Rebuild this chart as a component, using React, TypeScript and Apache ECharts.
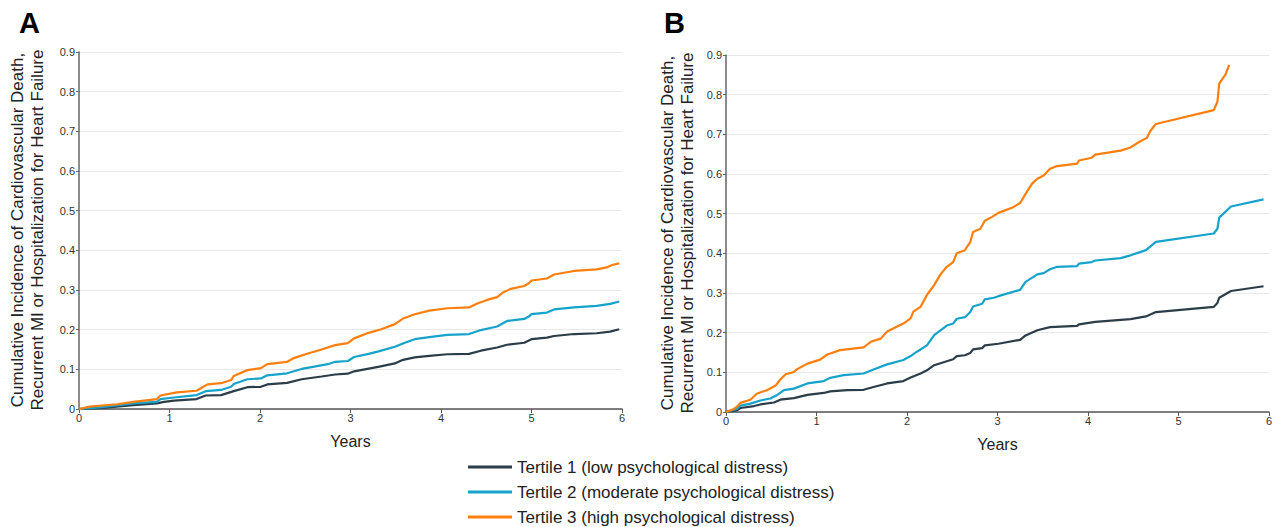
import React, { useEffect, useRef } from "react";
import * as echarts from "echarts";

const seriesNames = [
  "Tertile 1 (low psychological distress)",
  "Tertile 2 (moderate psychological distress)",
  "Tertile 3 (high psychological distress)",
];
const colors = ["#2b3d48", "#16a3cb", "#ff7f0e"];
const xTicks = [0, 1, 2, 3, 4, 5, 6];
const yTitle = "Cumulative Incidence of Cardiovascular Death,\nRecurrent MI or Hospitalization for Heart Failure";

// Panel A
const aT1 = [0, 0.23, 0.6, 0.86, 0.94, 1.05, 1.3, 1.4, 1.57, 1.71, 1.86, 2.01, 2.08, 2.3, 2.46, 2.68, 2.83, 2.97, 3.04, 3.32, 3.49, 3.58, 3.71, 3.87, 4.07, 4.31, 4.44, 4.62, 4.73, 4.92, 5.0, 5.17, 5.25, 5.47, 5.72, 5.87, 5.97];
const aY1 = [0, 0.002, 0.01, 0.014, 0.018, 0.021, 0.025, 0.034, 0.035, 0.045, 0.055, 0.056, 0.062, 0.066, 0.075, 0.082, 0.087, 0.089, 0.095, 0.107, 0.115, 0.124, 0.13, 0.134, 0.138, 0.139, 0.147, 0.155, 0.162, 0.167, 0.176, 0.18, 0.184, 0.189, 0.191, 0.195, 0.201];
const aT2 = [0, 0.23, 0.6, 0.86, 0.9, 1.05, 1.3, 1.4, 1.57, 1.68, 1.71, 1.86, 2.01, 2.08, 2.3, 2.46, 2.6, 2.75, 2.83, 2.97, 3.04, 3.2, 3.32, 3.49, 3.6, 3.71, 3.87, 4.07, 4.31, 4.44, 4.62, 4.73, 4.92, 4.97, 5.0, 5.17, 5.25, 5.47, 5.72, 5.87, 5.97];
const aY2 = [0, 0.004, 0.014, 0.018, 0.025, 0.029, 0.035, 0.045, 0.048, 0.056, 0.063, 0.075, 0.077, 0.085, 0.09, 0.101, 0.107, 0.113, 0.119, 0.121, 0.131, 0.139, 0.146, 0.157, 0.167, 0.176, 0.181, 0.187, 0.189, 0.199, 0.208, 0.222, 0.227, 0.233, 0.239, 0.243, 0.251, 0.256, 0.26, 0.265, 0.271];
const aT3 = [0, 0.12, 0.42, 0.6, 0.86, 0.9, 1.08, 1.3, 1.42, 1.57, 1.68, 1.71, 1.86, 2.01, 2.08, 2.3, 2.38, 2.53, 2.68, 2.83, 2.97, 3.04, 3.2, 3.34, 3.49, 3.58, 3.71, 3.87, 4.07, 4.31, 4.4, 4.51, 4.62, 4.68, 4.77, 4.92, 4.97, 5.0, 5.17, 5.25, 5.47, 5.72, 5.83, 5.89, 5.97];
const aY3 = [0, 0.006, 0.012, 0.018, 0.025, 0.034, 0.042, 0.046, 0.062, 0.065, 0.073, 0.083, 0.098, 0.103, 0.113, 0.119, 0.129, 0.14, 0.15, 0.161, 0.166, 0.178, 0.192, 0.201, 0.214, 0.228, 0.239, 0.248, 0.254, 0.256, 0.266, 0.275, 0.282, 0.293, 0.303, 0.31, 0.317, 0.324, 0.329, 0.339, 0.348, 0.352, 0.357, 0.363, 0.367];

// Panel B
const bT1 = [0, 0.12, 0.16, 0.31, 0.38, 0.53, 0.6, 0.75, 0.9, 1.08, 1.15, 1.34, 1.52, 1.63, 1.78, 1.96, 2.04, 2.15, 2.22, 2.3, 2.37, 2.44, 2.51, 2.55, 2.64, 2.7, 2.73, 2.83, 2.86, 3.01, 3.25, 3.31, 3.44, 3.58, 3.88, 3.9, 4.08, 4.47, 4.64, 4.75, 5.39, 5.43, 5.45, 5.58, 5.94];
const bY1 = [0, 0.004, 0.01, 0.015, 0.019, 0.024, 0.031, 0.035, 0.043, 0.048, 0.052, 0.055, 0.056, 0.063, 0.072, 0.078, 0.087, 0.097, 0.105, 0.118, 0.123, 0.128, 0.133, 0.141, 0.143, 0.149, 0.158, 0.161, 0.168, 0.172, 0.182, 0.193, 0.206, 0.214, 0.217, 0.221, 0.227, 0.234, 0.241, 0.252, 0.265, 0.275, 0.288, 0.305, 0.317];
const bT2 = [0, 0.12, 0.16, 0.27, 0.38, 0.49, 0.56, 0.64, 0.75, 0.9, 1.08, 1.15, 1.3, 1.52, 1.63, 1.78, 1.96, 2.04, 2.11, 2.22, 2.3, 2.37, 2.44, 2.51, 2.55, 2.64, 2.7, 2.73, 2.83, 2.86, 2.96, 3.01, 3.25, 3.31, 3.44, 3.51, 3.58, 3.66, 3.88, 3.9, 4.04, 4.08, 4.36, 4.47, 4.64, 4.75, 5.39, 5.43, 5.45, 5.58, 5.94];
const bY2 = [0, 0.008, 0.016, 0.021, 0.029, 0.034, 0.042, 0.055, 0.059, 0.072, 0.078, 0.086, 0.093, 0.097, 0.107, 0.12, 0.131, 0.141, 0.152, 0.168, 0.194, 0.206, 0.218, 0.223, 0.235, 0.239, 0.252, 0.266, 0.273, 0.284, 0.288, 0.292, 0.308, 0.328, 0.347, 0.35, 0.36, 0.366, 0.368, 0.374, 0.378, 0.382, 0.388, 0.395, 0.408, 0.429, 0.45, 0.462, 0.49, 0.518, 0.536];
const bT3 = [0, 0.08, 0.12, 0.16, 0.27, 0.34, 0.45, 0.55, 0.6, 0.66, 0.75, 0.78, 0.9, 1.04, 1.12, 1.26, 1.52, 1.6, 1.71, 1.78, 1.96, 2.04, 2.07, 2.15, 2.22, 2.3, 2.37, 2.44, 2.51, 2.55, 2.64, 2.7, 2.73, 2.81, 2.86, 2.94, 3.01, 3.18, 3.25, 3.31, 3.38, 3.44, 3.51, 3.58, 3.66, 3.88, 3.9, 4.04, 4.08, 4.36, 4.47, 4.56, 4.65, 4.69, 4.75, 5.39, 5.43, 5.45, 5.52, 5.56];
const bY3 = [0, 0.007, 0.013, 0.023, 0.031, 0.046, 0.055, 0.067, 0.082, 0.095, 0.101, 0.107, 0.122, 0.132, 0.145, 0.156, 0.163, 0.177, 0.185, 0.203, 0.223, 0.236, 0.253, 0.265, 0.295, 0.32, 0.347, 0.366, 0.378, 0.4, 0.408, 0.429, 0.454, 0.462, 0.482, 0.492, 0.502, 0.517, 0.527, 0.55, 0.575, 0.588, 0.596, 0.613, 0.62, 0.626, 0.634, 0.641, 0.649, 0.659, 0.667, 0.68, 0.691, 0.709, 0.726, 0.761, 0.782, 0.828, 0.851, 0.875];

const panelA = [[aT1, aY1], [aT2, aY2], [aT3, aY3]];
const panelB = [[bT1, bY1], [bT2, bY2], [bT3, bY3]];

const zip = (t: number[], y: number[]) => t.map((v, i) => [v, y[i]]);

export default function App() {
  const ref = useRef<HTMLDivElement>(null);
  useEffect(() => {
    if (!ref.current) return;
    const chart = echarts.init(ref.current, null, { renderer: "svg" });
    const font = "Liberation Sans, Arial, Helvetica, sans-serif";
    const grids = [
      { left: 79, top: 52, width: 543, height: 357 },
      { left: 726, top: 55, width: 543, height: 357 },
    ];
    const xAxis = grids.map((_, i) => ({
      type: "value",
      gridIndex: i,
      min: xTicks[0],
      max: xTicks[xTicks.length - 1],
      interval: 1,
      name: "Years",
      nameLocation: "middle",
      nameGap: 24,
      nameTextStyle: { fontSize: 16, color: "#222", fontFamily: font },
      axisLine: { show: true, lineStyle: { color: "#555", width: 1.5 } },
      axisTick: { show: true, length: 4, lineStyle: { color: "#555" } },
      axisLabel: { fontSize: 11, color: "#333", margin: 3, fontFamily: font },
      splitLine: { show: false },
    }));
    const yAxis = grids.map((_, i) => ({
      type: "value",
      gridIndex: i,
      min: 0,
      max: 0.9,
      interval: 0.1,
      axisLine: { show: true, lineStyle: { color: "#666", width: 1.5 } },
      axisTick: { show: true, length: 3, lineStyle: { color: "#666" } },
      axisLabel: {
        fontSize: 11,
        color: "#333",
        margin: 4,
        fontFamily: font,
        formatter: (v: number) => (Math.round(v * 10) / 10).toString(),
      },
      splitLine: { show: true, lineStyle: { color: "#e8e8e8", width: 1 } },
    }));
    const series: any[] = [];
    [panelA, panelB].forEach((panel, gi) => {
      panel.forEach(([t, y], si) => {
        series.push({
          type: "line",
          name: seriesNames[si],
          xAxisIndex: gi,
          yAxisIndex: gi,
          data: zip(t, y),
          showSymbol: false,
          symbol: "none",
          lineStyle: { color: colors[si], width: 2.2 },
          itemStyle: { color: colors[si] },
          z: 2 + si,
        });
      });
    });
    chart.setOption({
      animation: false,
      grid: grids,
      xAxis,
      yAxis,
      series,
      legend: {
        orient: "vertical",
        left: 468,
        top: 458,
        height: 69,
        padding: 0,
        itemWidth: 44,
        itemHeight: 3,
        itemGap: 7,
        icon: "rect",
        data: seriesNames,
        textStyle: { fontSize: 17, color: "#222", fontFamily: font, lineHeight: 18 },
        selectedMode: false,
      },
      graphic: [
        {
          type: "text",
          left: 19,
          top: 8,
          style: { text: "A", fontSize: 29, fontWeight: "bold", fill: "#000", fontFamily: font },
        },
        {
          type: "text",
          left: 664,
          top: 8,
          style: { text: "B", fontSize: 29, fontWeight: "bold", fill: "#000", fontFamily: font },
        },
        {
          type: "text",
          x: 27,
          y: 230,
          rotation: Math.PI / 2,
          style: {
            text: yTitle,
            fontSize: 17,
            lineHeight: 20,
            fill: "#222",
            fontFamily: font,
            align: "center",
            verticalAlign: "middle",
          },
        },
        {
          type: "text",
          x: 677,
          y: 233,
          rotation: Math.PI / 2,
          style: {
            text: yTitle,
            fontSize: 17,
            lineHeight: 20,
            fill: "#222",
            fontFamily: font,
            align: "center",
            verticalAlign: "middle",
          },
        },
      ],
    });
    return () => chart.dispose();
  }, []);
  return (
    <div
      ref={ref}
      style={{ position: "fixed", left: 0, top: 0, width: 1278, height: 527, background: "#fff" }}
    />
  );
}
